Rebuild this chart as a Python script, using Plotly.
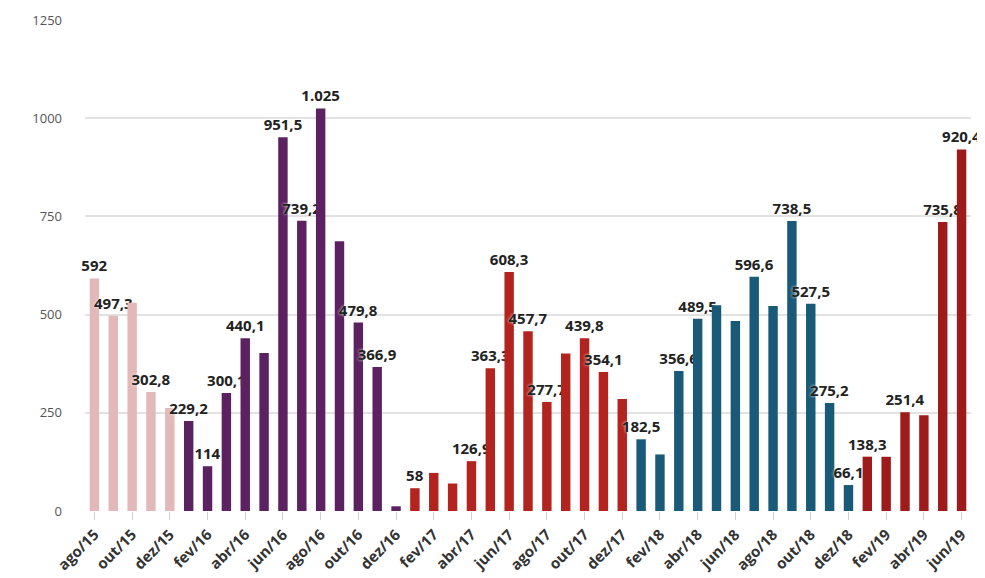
import plotly.graph_objects as go

months = ["ago/15", "set/15", "out/15", "nov/15", "dez/15",
          "jan/16", "fev/16", "mar/16", "abr/16", "mai/16", "jun/16", "jul/16", "ago/16", "set/16", "out/16", "nov/16", "dez/16",
          "jan/17", "fev/17", "mar/17", "abr/17", "mai/17", "jun/17", "jul/17", "ago/17", "set/17", "out/17", "nov/17", "dez/17",
          "jan/18", "fev/18", "mar/18", "abr/18", "mai/18", "jun/18", "jul/18", "ago/18", "set/18", "out/18", "nov/18", "dez/18",
          "jan/19", "fev/19", "mar/19", "abr/19", "mai/19", "jun/19"]

values = [592, 497.3, 530, 302.8, 262,
          229.2, 114, 300.1, 440.1, 402, 951.5, 739.2, 1025, 687, 479.8, 366.9, 12,
          58, 97, 70, 126.9, 363.3, 608.3, 457.7, 277.7, 401, 439.8, 354.1, 285,
          182.5, 144, 356.6, 489.5, 524, 484, 596.6, 522, 738.5, 527.5, 275.2, 66.1,
          138.3, 138, 251.4, 244, 735.8, 920.4]

labels = ["592", "497,3", "", "302,8", "",
          "229,2", "114", "300,1", "440,1", "", "951,5", "739,2", "1.025", "", "479,8", "366,9", "",
          "58", "", "", "126,9", "363,3", "608,3", "457,7", "277,7", "", "439,8", "354,1", "",
          "182,5", "", "356,6", "489,5", "", "", "596,6", "", "738,5", "527,5", "275,2", "66,1",
          "138,3", "", "251,4", "", "735,8", "920,4"]

year_colors = {"15": "#e3b8b8", "16": "#5b2160", "17": "#b3241f", "18": "#195a78", "19": "#9e1b1b"}
colors = [year_colors[m[-2:]] for m in months]

tick_vals = months[::2]
y_ticks = [0, 250, 500, 750, 1000, 1250]

fig = go.Figure()
fig.add_trace(go.Bar(
    x=months, y=values, marker_color=colors, marker_line_width=0,
    text=labels, textposition="outside", cliponaxis=False, constraintext="none",
    textfont=dict(family="Open Sans", size=15, color="#222222", weight="bold",
                  shadow="0px 0px 3px white"),
    hoverinfo="x+y",
))

fig.update_layout(
    width=977, height=570,
    margin=dict(l=77, r=14, t=12, b=67),
    paper_bgcolor="white", plot_bgcolor="white",
    bargap=0.5, showlegend=False,
    font=dict(family="Open Sans", color="#555555"),
)
fig.update_xaxes(
    type="category", range=[-0.5, len(months) - 0.5], automargin=False,
    tickmode="array", tickvals=tick_vals, ticktext=tick_vals,
    tickangle=-45, tickfont=dict(family="Open Sans", size=15, color="#333333", weight="bold"),
    ticks="outside", ticklen=8, tickcolor="#d0d0d0", showgrid=False,
    showline=False,
)
fig.update_yaxes(
    range=[0, 1250], tickvals=y_ticks, ticktext=[str(v) for v in y_ticks],
    showgrid=True, gridcolor="#e2e2e2", gridwidth=1.5, zeroline=False, automargin=False,
    tickfont=dict(family="Open Sans", size=13, color="#555555"),
    ticklabelstandoff=22,
)

fig.write_html("out.html")
